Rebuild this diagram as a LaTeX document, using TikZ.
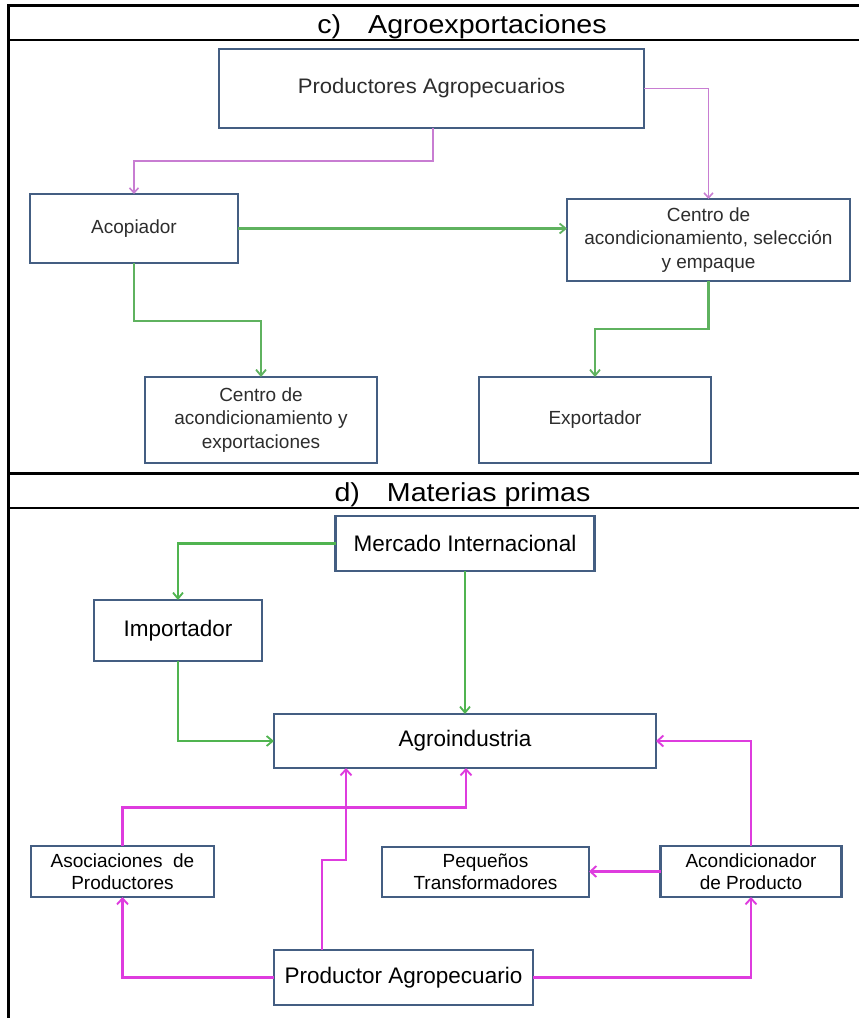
\documentclass[tikz,border=0pt]{standalone}
\usepackage{fontspec}
\setmainfont{Liberation Sans}
\newfontfamily\titlefont[FakeStretch=1.1]{Liberation Sans}
\newfontfamily\widefont[FakeStretch=1.05]{Liberation Sans}
\usetikzlibrary{arrows.meta,calc}
\definecolor{boxc}{RGB}{68,94,130}
\definecolor{purc}{RGB}{200,125,210}
\definecolor{grnc}{RGB}{95,178,95}
\definecolor{grnd}{RGB}{80,180,80}
\definecolor{magd}{RGB}{222,60,222}
\definecolor{txtc}{RGB}{45,45,45}
\begin{document}
\begin{tikzpicture}[x=1pt,y=-1pt,
  bx/.style={draw=boxc, line width=2.7pt, fill=white, inner sep=0pt, outer sep=0pt, align=center},
  ctext/.style={text=txtc, font=\fontsize{19}{23.5}\selectfont},
  dbig/.style={text=black, font=\fontsize{22.5}{27}\selectfont},
  dsmall/.style={text=black, font=\fontsize{19}{22}\selectfont},
  ttl/.style={anchor=base, font=\titlefont\fontsize{26}{30}\selectfont},
  purline/.style={draw=purc, line width=1.9pt, -{Straight Barb[length=5pt,width=9pt,line width=1.6pt]}},
  grnline/.style={draw=grnc, line width=2.3pt, -{Straight Barb[length=6pt,width=10pt,line width=1.8pt]}},
  grnlined/.style={draw=grnd, line width=2.1pt, -{Straight Barb[length=6pt,width=10pt,line width=1.8pt]}},
  magline/.style={draw=magd, line width=2.3pt, -{Straight Barb[length=6pt,width=11pt,line width=1.9pt]}},
  tline/.style={draw=black, line width=2pt},
  tthick/.style={draw=black, line width=3pt}
]
\useasboundingbox (0,0) rectangle (859,1018);
\fill[white] (0,0) rectangle (859,1018);

% table frame
\draw[tthick] (7,5) -- (859,5);
\draw[tline] (7,40) -- (859,40);
\draw[tthick] (7,473) -- (859,473);
\draw[tline] (7,508) -- (859,508);
\draw[draw=black, line width=2.5pt] (8.5,4) -- (8.5,1018);

% titles
\node[ttl] (tc) at (462,33) {c)\hspace{27pt}Agroexportaciones};
\node[ttl] (td) at (462.5,501) {d)\hspace{27pt}Materias primas};

% ---- c) ----
\node[bx, ctext, minimum width=425pt, minimum height=79pt] (prod) at (431.5,88.5)
  {\widefont\fontsize{21}{25}\selectfont Productores Agropecuarios};
\node[bx, ctext, minimum width=208pt, minimum height=69pt] (acop) at (134,228.5) {Acopiador};
\node[bx, ctext, minimum width=283pt, minimum height=82pt] (cent) at (708.5,240)
  {Centro de\\acondicionamiento, selección\\y empaque};
\node[bx, ctext, minimum width=232pt, minimum height=86pt] (centx) at (261,420)
  {Centro de\\acondicionamiento y\\exportaciones};
\node[bx, ctext, minimum width=232pt, minimum height=86pt] (expo) at (595,420) {Exportador};

\draw[purline] ([xshift=1.5pt]prod.south) -- ++(0,33) -| (acop.north);
\draw[purline] (prod.east) -| (cent.north);
\draw[grnline] (acop.east) -- (acop.east -| cent.west);
\draw[grnline] (acop.south) -- ++(0,58) -| (centx.north);
\draw[grnline] (cent.south) -- ++(0,48) -| (expo.north);

% ---- d) ----
\node[bx, dbig, minimum width=259pt, minimum height=55pt] (merc) at (465,543.5) {Mercado Internacional};
\node[bx, dbig, minimum width=168pt, minimum height=61pt] (impo) at (178,630.5) {Importador};
\node[bx, dbig, minimum width=382pt, minimum height=54pt] (agro) at (465,741) {Agroindustria};
\node[bx, dsmall, minimum width=183pt, minimum height=51pt] (asoc) at (122.5,871.5)
  {Asociaciones\ \ de\\Productores};
\node[bx, dsmall, minimum width=207pt, minimum height=50pt] (pequ) at (485.5,872)
  {Pequeños\\Transformadores};
\node[bx, dsmall, minimum width=181pt, minimum height=51pt] (acond) at (751,871.5)
  {Acondicionador\\de Producto};
\node[bx, dbig, minimum width=259pt, minimum height=55pt] (proda) at (403.5,977.5) {Productor Agropecuario};

\draw[grnlined] (merc.west) -| (impo.north);
\draw[grnlined] (merc.south) -- (agro.north);
\draw[grnlined] (impo.south) |- (agro.west);
\draw[magline] (acond.north) |- (agro.east);
\draw[magline] (acond.west) -- (acond.west -| pequ.east);
\draw[magline] (asoc.north) -- ++(0,-38.5) -| ([xshift=1pt]agro.south);
\draw[magline] ([xshift=-81.5pt]proda.north) -- ++(0,-90) -| ([xshift=-119pt]agro.south);
\draw[magline] (proda.west) -| (asoc.south);
\draw[magline] (proda.east) -| (acond.south);
\end{tikzpicture}
\end{document}
